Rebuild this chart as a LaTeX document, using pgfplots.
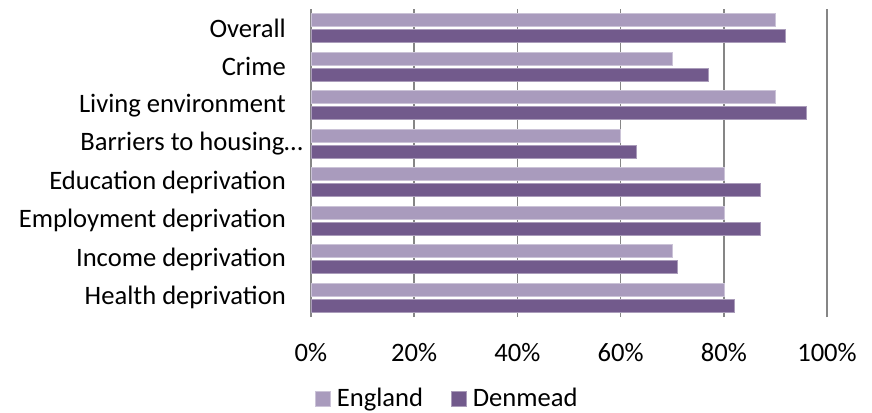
\documentclass[border=0pt]{standalone}
\usepackage{fontspec}
\setmainfont{Carlito}
\usepackage{pgfplots}
\pgfplotsset{compat=1.18}
\definecolor{eng}{RGB}{169,155,189}
\definecolor{den}{RGB}{114,90,140}
\definecolor{gridc}{RGB}{134,134,134}
\begin{document}
\fontsize{26.6}{31}\selectfont
\begin{tikzpicture}
\begin{axis}[
  at={(0,0)}, anchor=south west,
  scale only axis, width=516pt, height=308pt,
  xbar, bar width=13pt,
  xmin=0, xmax=100, ymin=-0.5, ymax=7.5,
  enlargelimits=false,
  xtick={0,20,...,100},
  xticklabel={\pgfmathprintnumber{\tick}\%},
  /pgf/number format/assume math mode=true,
  ytick={0,...,7},
  yticklabels={Health deprivation, Income deprivation, Employment deprivation, Education deprivation, {Barriers to housing…\hspace{-17pt}\null}, Living environment, Crime, Overall},
  yticklabel style={anchor=east, inner sep=0pt, xshift=-25pt, font=\fontsize{26.6}{31}\selectfont},
  xticklabel style={anchor=north, inner sep=0pt, yshift=-26pt, font=\fontsize{26.6}{31}\selectfont},
  major tick length=0pt, tick style={draw=none},
  xmajorgrids, major grid style={draw=gridc, line width=1.5pt},
  separate axis lines,
  x axis line style={draw=none},
  y axis line style={draw=gridc, line width=1.5pt},
  legend style={at={(rel axis cs:0.008,-0.266)}, anchor=west, draw=none, fill=none, inner sep=0pt,
    font=\fontsize{26.6}{31}\selectfont,
    /tikz/every even column/.append style={column sep=26pt},
    /tikz/every odd column/.append style={column sep=4pt}},
  legend columns=-1,
  legend image code/.code={\fill[#1] (0pt,-7pt) rectangle (15pt,8pt);},
]
\addplot[fill=eng, draw=eng!60!white, line width=0.6pt, bar shift=8pt] coordinates {(80,0) (70,1) (80,2) (80,3) (60,4) (90,5) (70,6) (90,7)};
\addplot[fill=den, draw=den!60!white, line width=0.6pt, bar shift=-8pt] coordinates {(82,0) (71,1) (87,2) (87,3) (63,4) (96,5) (77,6) (92,7)};
\legend{England, Denmead}
\end{axis}
\pgfresetboundingbox
\useasboundingbox (-311pt,-95pt) rectangle (561pt,317pt);
\end{tikzpicture}
\end{document}
